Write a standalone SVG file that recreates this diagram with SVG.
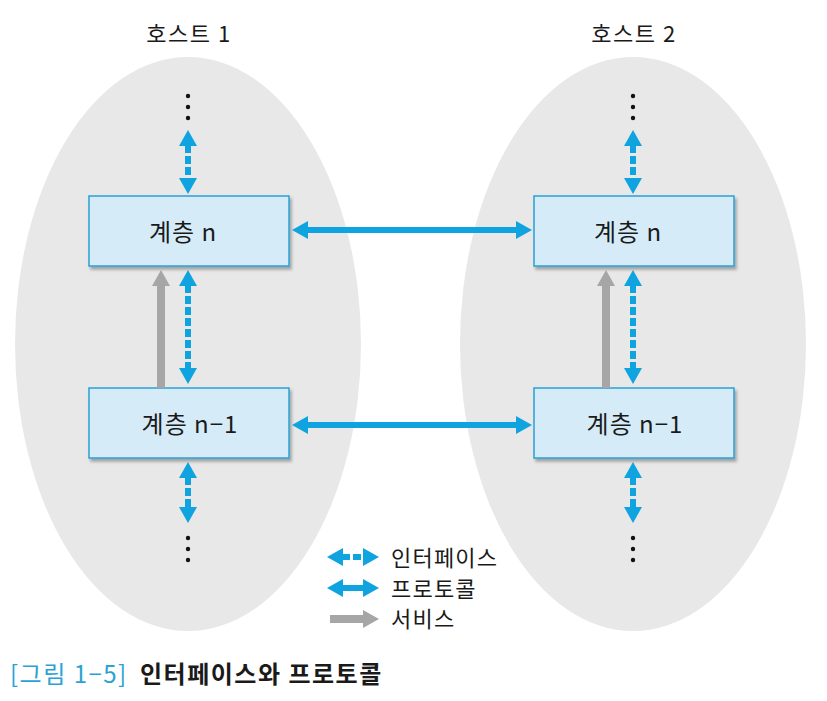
<svg xmlns="http://www.w3.org/2000/svg" width="827" height="701" viewBox="0 0 827 701">
<defs>
<filter id="sh" x="-10%" y="-10%" width="130%" height="140%">
<feDropShadow dx="2" dy="3" stdDeviation="1.5" flood-color="#000" flood-opacity="0.3"/>
</filter>
<marker id="bh" viewBox="0 0 16 18" refX="1" refY="9" markerWidth="16" markerHeight="18" markerUnits="userSpaceOnUse" orient="auto-start-reverse">
<path d="M0,0 L16,9 L0,18 Z" fill="#0fa3e0"/>
</marker>
<marker id="gh" viewBox="0 0 16 18" refX="1" refY="9" markerWidth="16" markerHeight="18" markerUnits="userSpaceOnUse" orient="auto">
<path d="M0,0 L16,9 L0,18 Z" fill="#a6a6a6"/>
</marker>
</defs>
<style>
text{font-family:"Noto Sans CJK KR","Noto Sans",sans-serif;fill:#1a1a1a}
.host{fill:#e8e8e8}
.box{fill:#d6ebf8;stroke:#2aa1d4;stroke-width:1.5}
.lbl{font-size:24px;letter-spacing:1px;text-anchor:middle}
.ttl{font-size:22px;letter-spacing:1.5px;text-anchor:middle}
.leg{font-size:22px;letter-spacing:1.2px}
.ifc{stroke:#0fa3e0;stroke-width:6;stroke-dasharray:8 3;fill:none;marker-start:url(#bh);marker-end:url(#bh)}
.pro{stroke:#0fa3e0;stroke-width:6;fill:none;marker-start:url(#bh);marker-end:url(#bh)}
.svc{stroke:#a6a6a6;stroke-width:8;fill:none;marker-end:url(#gh)}
.dot{fill:#111}
</style>
<ellipse class="host" cx="188" cy="344" rx="173" ry="287"/>
<ellipse class="host" cx="633" cy="344" rx="173" ry="287"/>
<text class="ttl" x="189" y="42">호스트 1</text>
<text class="ttl" x="634" y="42">호스트 2</text>
<g id="dots">
<circle class="dot" cx="188" cy="96" r="2.2"/><circle class="dot" cx="188" cy="107" r="2.2"/><circle class="dot" cx="188" cy="118" r="2.2"/>
<circle class="dot" cx="188" cy="538" r="2.2"/><circle class="dot" cx="188" cy="549" r="2.2"/><circle class="dot" cx="188" cy="560" r="2.2"/>
<circle class="dot" cx="633" cy="96" r="2.2"/><circle class="dot" cx="633" cy="107" r="2.2"/><circle class="dot" cx="633" cy="118" r="2.2"/>
<circle class="dot" cx="633" cy="538" r="2.2"/><circle class="dot" cx="633" cy="549" r="2.2"/><circle class="dot" cx="633" cy="560" r="2.2"/>
</g>
<g id="h1n"><rect class="box" x="89" y="196" width="200" height="70" filter="url(#sh)"/><text class="lbl" x="183" y="241">계층 n</text></g>
<g id="h1n1"><rect class="box" x="89" y="388" width="200" height="70" filter="url(#sh)"/><text class="lbl" x="190" y="433">계층 n−1</text></g>
<g id="h2n"><rect class="box" x="534" y="196" width="200" height="70" filter="url(#sh)"/><text class="lbl" x="628" y="241">계층 n</text></g>
<g id="h2n1"><rect class="box" x="534" y="388" width="200" height="70" filter="url(#sh)"/><text class="lbl" x="635" y="433">계층 n−1</text></g>
<g id="connectors">
<line class="ifc" x1="188" y1="145" x2="188" y2="179"/>
<line class="ifc" x1="188" y1="285" x2="188" y2="369"/>
<line class="ifc" x1="188" y1="477" x2="188" y2="508"/>
<line class="ifc" x1="633" y1="145" x2="633" y2="179"/>
<line class="ifc" x1="633" y1="285" x2="633" y2="369"/>
<line class="ifc" x1="633" y1="477" x2="633" y2="508"/>
<line class="svc" x1="161" y1="388" x2="161" y2="285"/>
<line class="svc" x1="606" y1="388" x2="606" y2="285"/>
<line class="pro" x1="307" y1="230" x2="517" y2="230"/>
<line class="pro" x1="307" y1="425" x2="517" y2="425"/>
</g>
<g id="legend">
<line class="ifc" x1="342" y1="557" x2="364" y2="557"/>
<line class="pro" x1="342" y1="588" x2="364" y2="588"/>
<line class="svc" x1="330" y1="619" x2="364" y2="619"/>
<text class="leg" x="391" y="566">인터페이스</text>
<text class="leg" x="391" y="597">프로토콜</text>
<text class="leg" x="391" y="627">서비스</text>
</g>
<text x="10" y="683" style="font-size:24px;letter-spacing:1.5px;fill:#29a3d6">[그림 1−5]</text>
<text x="140" y="683" style="font-size:24px;letter-spacing:1.5px;font-weight:bold">인터페이스와 프로토콜</text>
</svg>
